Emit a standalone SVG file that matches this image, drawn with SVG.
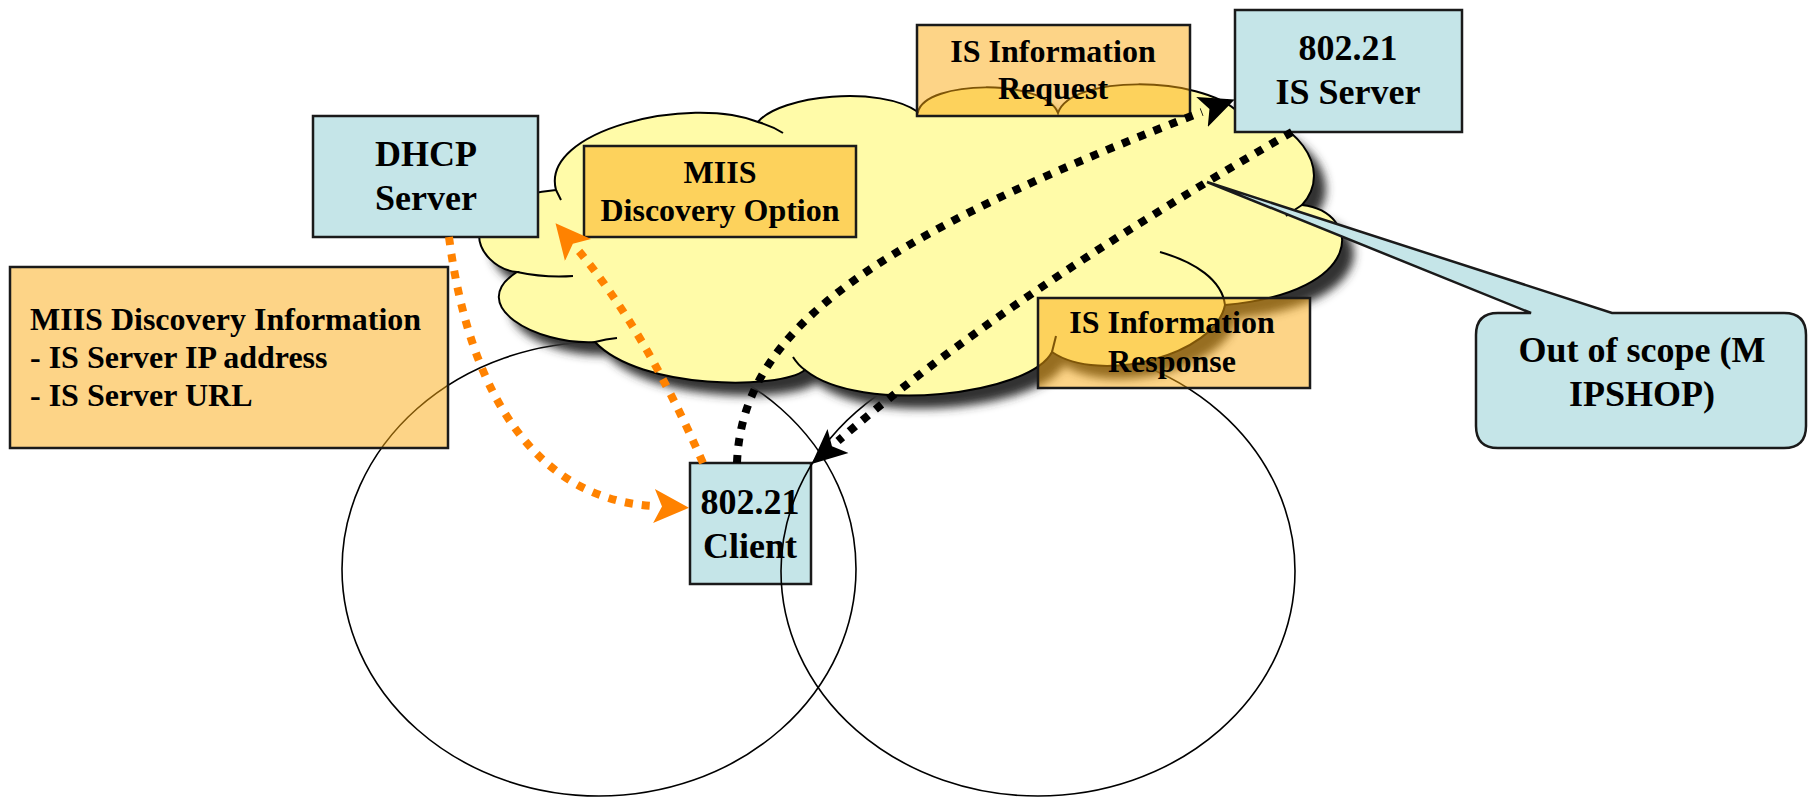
<svg xmlns="http://www.w3.org/2000/svg" xmlns:xlink="http://www.w3.org/1999/xlink" width="1808" height="797" viewBox="0 0 1808 797">
<style>
.blue{fill:#C5E5E8;stroke:#1a1a1a;stroke-width:2.5}
.orange{fill:#FBAA10;fill-opacity:0.5;stroke:#1a1a1a;stroke-width:2.5}
.t36{font-family:"Liberation Serif","Times New Roman",serif;font-weight:bold;font-size:36px;fill:#000;text-anchor:middle}
.t32{font-family:"Liberation Serif","Times New Roman",serif;font-weight:bold;font-size:32px;fill:#000;text-anchor:middle}
.t32l{font-family:"Liberation Serif","Times New Roman",serif;font-weight:bold;font-size:32px;fill:#000}
.ell{fill:none;stroke:#000;stroke-width:1.6}
.stub{fill:none;stroke:#000;stroke-width:2}
.dOr{fill:none;stroke:#FF8200;stroke-width:8;stroke-dasharray:8 9}
.dBk{fill:none;stroke:#000;stroke-width:8;stroke-dasharray:8 9}
</style>
<defs>
<filter id="blur" x="-10%" y="-10%" width="130%" height="140%"><feGaussianBlur stdDeviation="5"/></filter>
<path id="cloudShape" d="M556,190 C540,130 690,95 758,122 C780,95 880,85 918,112 C925,80 1045,78 1058,113 C1070,75 1200,75 1238,112 C1292,115 1336,168 1302,205 C1362,212 1368,292 1225,305 C1215,355 1100,385 1052,352 C1030,395 860,415 805,370 C780,390 640,390 595,342 C535,345 465,305 517,272 C475,268 445,200 556,190 Z"/>
<marker id="arO" markerUnits="userSpaceOnUse" markerWidth="40" markerHeight="40" viewBox="0 -20 40 40" refX="0" refY="0" orient="auto"><path d="M0,-17 L35,0 L0,17 L8,0 Z" fill="#FF8200"/></marker>
<marker id="arB" markerUnits="userSpaceOnUse" markerWidth="40" markerHeight="40" viewBox="0 -20 40 40" refX="0" refY="0" orient="auto"><path d="M0,-16 L35,0 L0,16 L8,0 Z" fill="#000"/></marker>
</defs>
<rect width="1808" height="797" fill="#fff"/>

<g id="client">
<rect class="blue" x="690" y="463" width="121" height="121"/>
<text class="t36" x="750" y="514">802.21</text>
<text class="t36" x="750" y="558">Client</text>
</g>

<g id="cells">
<ellipse class="ell" cx="599" cy="569" rx="257" ry="227"/>
<ellipse class="ell" cx="1038" cy="571" rx="257" ry="225"/>
</g>

<g id="cloud">
<use xlink:href="#cloudShape" transform="translate(12,13)" fill="#333" filter="url(#blur)"/>
<use xlink:href="#cloudShape" fill="#FFFBA8" stroke="#000" stroke-width="2"/>
<path class="stub" d="M556,190 L561,200"/>
<path class="stub" d="M758,122 Q772,126 783,133"/>
<path class="stub" d="M1302,205 Q1294,210 1286,216"/>
<path class="stub" d="M1160,252 C1195,262 1222,280 1225,305"/>
<path class="stub" d="M1052,352 Q1054,344 1056,336"/>
<path class="stub" d="M805,370 Q798,365 793,357"/>
<path class="stub" d="M595,342 Q606,339 617,338"/>
<path class="stub" d="M517,272 Q545,278 573,276"/>
</g>

<g id="dhcp">
<rect class="blue" x="313" y="116" width="225" height="121"/>
<text class="t36" x="426" y="166">DHCP</text>
<text class="t36" x="426" y="210">Server</text>
</g>

<g id="isserver">
<rect class="blue" x="1235" y="10" width="227" height="122"/>
<text class="t36" x="1348" y="60">802.21</text>
<text class="t36" x="1348" y="104">IS Server</text>
</g>

<g id="outofscope">
<path class="blue" stroke-width="2" d="M1498,313 L1531,313 L1207,182 L1612,313 L1784,313 Q1806,313 1806,335 L1806,426 Q1806,448 1784,448 L1498,448 Q1476,448 1476,426 L1476,335 Q1476,313 1498,313 Z"/>
<text class="t36" x="1642" y="362">Out of scope (M</text>
<text class="t36" x="1642" y="406">IPSHOP)</text>
</g>

<g id="miisoption">
<rect class="orange" x="584" y="146" width="272" height="91"/>
<text class="t32" x="720" y="183">MIIS</text>
<text class="t32" x="720" y="221">Discovery Option</text>
</g>

<g id="miisinfo">
<rect class="orange" x="10" y="267" width="438" height="181"/>
<text class="t32l" x="30" y="330">MIIS Discovery Information</text>
<text class="t32l" x="30" y="368">- IS Server IP address</text>
<text class="t32l" x="30" y="406">- IS Server URL</text>
</g>

<g id="isrequest">
<rect class="orange" x="917" y="25" width="273" height="91"/>
<text class="t32" x="1053" y="62">IS Information</text>
<text class="t32" x="1053" y="99">Request</text>
</g>

<g id="isresponse">
<rect class="orange" x="1038" y="298" width="272" height="90"/>
<text class="t32" x="1172" y="333">IS Information</text>
<text class="t32" x="1172" y="372">Response</text>
</g>

<g id="connectors">
<path class="dOr" d="M449,237 C470,400 540,500 654,506" marker-end="url(#arO)"/>
<path class="dOr" d="M703,463 Q645,330 578,250" marker-end="url(#arO)"/>
<path class="dBk" d="M737,463 C742,330 870,240 1202,112" marker-end="url(#arB)"/>
<path class="dBk" d="M1292,132 Q1000,300 838,441" marker-end="url(#arB)"/>
</g>
</svg>
